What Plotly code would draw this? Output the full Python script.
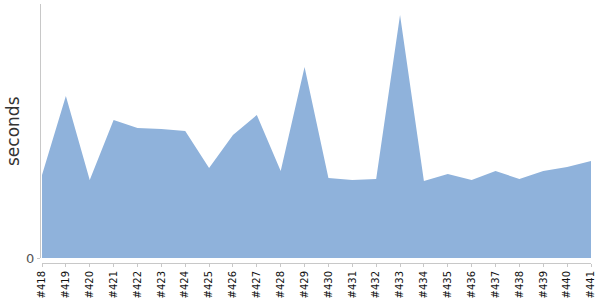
import plotly.graph_objects as go

builds = ["#418", "#419", "#420", "#421", "#422", "#423", "#424", "#425", "#426", "#427",
          "#428", "#429", "#430", "#431", "#432", "#433", "#434", "#435", "#436", "#437",
          "#438", "#439", "#440", "#441"]
seconds = [83, 162, 78, 138, 130, 129, 127, 90, 123, 143,
           87, 191, 80, 78, 79, 243, 77, 84, 78, 87,
           79, 87, 91, 97]

W, H = 600, 300
ml, mr, mt, mb = 40, 9, 4, 37
pw, ph = W - ml - mr, H - mt - mb

fig = go.Figure()
fig.add_trace(go.Scatter(
    x=list(range(len(builds))), y=seconds, mode="lines", fill="tozeroy",
    line=dict(width=0, color="rgb(143,178,219)"),
    fillcolor="rgb(143,178,219)", hoverinfo="skip", showlegend=False,
))

fig.update_layout(
    width=W, height=H, margin=dict(l=ml, r=mr, t=mt, b=mb, autoexpand=False),
    plot_bgcolor="white", paper_bgcolor="white",
    font=dict(family="DejaVu Sans", color="#333"),
    xaxis=dict(
        domain=[2 / pw, 1], anchor="free", position=0, automargin=False,
        range=[0, len(builds) - 1], tickmode="array",
        tickvals=list(range(len(builds))), ticktext=builds,
        tickangle=-90, tickfont=dict(size=10, color="#111"),
        showgrid=False, zeroline=False, showline=True, linecolor="#c8c8c8",
        ticks="outside", ticklen=3, tickcolor="#c8c8c8",
    ),
    yaxis=dict(
        domain=[5 / ph, 1], anchor="free", position=0, automargin=False,
        range=[0, 254], tickmode="array", tickvals=[0], ticktext=["0"],
        tickfont=dict(size=13, color="#555"),
        showgrid=False, zeroline=False, showline=True, linecolor="#c8c8c8",
        ticks="outside", ticklen=3, tickcolor="#c8c8c8",
    ),
    annotations=[dict(
        text="seconds", textangle=-90, xref="paper", yref="paper",
        x=(13 - ml) / pw, y=(H - mb - 131) / ph,
        xanchor="center", yanchor="middle", showarrow=False,
        font=dict(size=17, color="#333"),
    )],
)

fig.write_html("out.html")
